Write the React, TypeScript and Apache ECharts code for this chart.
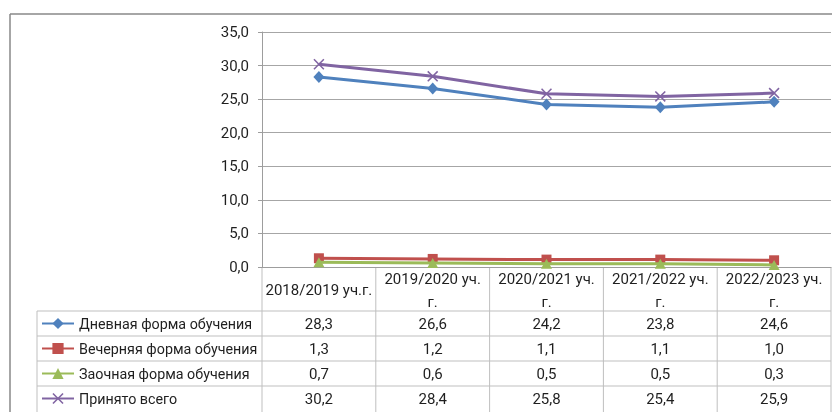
import React, { useEffect, useRef } from "react";
import * as echarts from "echarts";

const categories = ["2018/2019 уч.г.", "2019/2020 уч.\nг.", "2020/2021 уч.\nг.", "2021/2022 уч.\nг.", "2022/2023 уч.\nг."];
const seriesNames = ["Дневная форма обучения", "Вечерняя форма обучения", "Заочная форма обучения", "Принято всего"];
const dnevnaya = [28.3, 26.6, 24.2, 23.8, 24.6];
const vechernyaya = [1.3, 1.2, 1.1, 1.1, 1.0];
const zaochnaya = [0.7, 0.6, 0.5, 0.5, 0.3];
const vsego = [30.2, 28.4, 25.8, 25.4, 25.9];
const yMin = 0;
const yMax = 35;
const yStep = 5;

const FONT = "Roboto, 'Noto Sans', sans-serif";
const FS = 15;
const TXT = "#1f1f1f";
const fmt = (v: number) => v.toFixed(1).replace(".", ",");
const X_PATH = "path://M0,1L1,0L5,4L9,0L10,1L6,5L10,9L9,10L5,6L1,10L0,9L4,5Z";

export default function App() {
  const ref = useRef<HTMLDivElement>(null);
  useEffect(() => {
    if (!ref.current) return;
    const chart = echarts.init(ref.current, null, { renderer: "svg" });
    const gridLeft = 262;
    const gridTop = 32;
    const gridW = 569;
    const gridH = 235;
    const colW = gridW / categories.length;
    const axisY = gridTop + gridH;
    const headerBottom = 311;
    const rowH = 25;
    const tableLeft = 37;
    const tableRight = gridLeft + gridW;
    const bottom = 412;
    const dataRows = [dnevnaya, vechernyaya, zaochnaya, vsego];
    const lineColor = "#bfbfbf";

    const graphic: any[] = [];
    // outer frame
    graphic.push({ type: "line", shape: { x1: 10, y1: 14, x2: 832, y2: 14 }, style: { stroke: "#888", lineWidth: 1.5 }, silent: true });
    graphic.push({ type: "line", shape: { x1: 10, y1: 14, x2: 10, y2: 412 }, style: { stroke: "#888", lineWidth: 1.5 }, silent: true });
    // table horizontal lines
    for (let r = 0; r < dataRows.length; r++) {
      const y = headerBottom + r * rowH;
      graphic.push({ type: "line", shape: { x1: tableLeft, y1: y, x2: tableRight, y2: y }, style: { stroke: lineColor, lineWidth: 1 }, silent: true });
    }
    // vertical lines
    graphic.push({ type: "line", shape: { x1: tableLeft, y1: headerBottom, x2: tableLeft, y2: bottom }, style: { stroke: lineColor, lineWidth: 1 }, silent: true });
    for (let i = 0; i <= categories.length; i++) {
      const x = gridLeft + i * colW;
      graphic.push({ type: "line", shape: { x1: x, y1: axisY, x2: x, y2: bottom }, style: { stroke: lineColor, lineWidth: 1 }, silent: true });
    }
    // header
    categories.forEach((c, i) => {
      graphic.push({
        type: "text",
        x: gridLeft + (i + 0.5) * colW,
        y: (axisY + headerBottom) / 2 + 1,
        style: { text: c, fontFamily: FONT, fontSize: FS, fill: TXT, align: "center", verticalAlign: "middle", lineHeight: 23 },
        silent: true,
      });
    });
    // values
    dataRows.forEach((row, r) => {
      row.forEach((v, i) => {
        graphic.push({
          type: "text",
          x: gridLeft + (i + 0.5) * colW,
          y: headerBottom + r * rowH + rowH / 2,
          style: { text: fmt(v), fontFamily: FONT, fontSize: FS, fill: TXT, align: "center", verticalAlign: "middle" },
          silent: true,
        });
      });
    });

    const colors = ["#4f81bd", "#c0504d", "#9bbb59", "#8064a2"];
    const symbols = ["diamond", "rect", "triangle", X_PATH];
    const sizes = [[11, 12], 10, [11, 10], 11];

    chart.setOption({
      animation: false,
      textStyle: { fontFamily: FONT },
      grid: { left: gridLeft, top: gridTop, width: gridW, height: gridH },
      legend: {
        orient: "vertical",
        left: 41,
        top: headerBottom + (rowH - 14) / 2,
        padding: 0,
        height: 100,
        itemWidth: 32,
        itemHeight: 14,
        itemGap: rowH - 14,
        textStyle: { fontFamily: FONT, fontSize: 14.3, color: TXT },
        data: seriesNames,
        selectedMode: false,
      },
      xAxis: {
        type: "category",
        data: categories,
        boundaryGap: true,
        axisLine: { lineStyle: { color: "#9d9d9d", width: 1 } },
        axisTick: { show: false },
        axisLabel: { show: false },
        splitLine: { show: false },
      },
      yAxis: {
        type: "value",
        min: yMin,
        max: yMax,
        interval: yStep,
        axisLine: { show: true, lineStyle: { color: "#9d9d9d", width: 1 } },
        axisTick: { show: true, length: 4, lineStyle: { color: "#9d9d9d" } },
        axisLabel: { formatter: (v: number) => fmt(v), fontFamily: FONT, fontSize: FS, color: TXT, margin: 13 },
        splitLine: { lineStyle: { color: "#a6a6a6", width: 1 } },
      },
      series: [dnevnaya, vechernyaya, zaochnaya, vsego].map((d, k) => ({
        name: seriesNames[k],
        type: "line",
        data: d,
        symbol: symbols[k],
        symbolSize: sizes[k],
        showSymbol: true,
        lineStyle: { color: colors[k], width: 3 },
        itemStyle: { color: colors[k] },
        z: 2 + k,
      })),
      graphic,
    });
    return () => chart.dispose();
  }, []);
  return <div ref={ref} style={{ position: "fixed", left: 0, top: 0, width: 832, height: 412 }} />;
}
